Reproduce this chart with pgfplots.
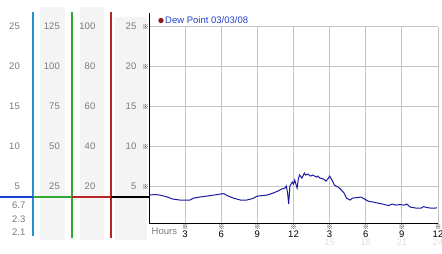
\documentclass[border=0pt]{standalone}
\usepackage{pgfplots}
\pgfplotsset{compat=1.18}
\usepackage{fontspec}
\setmainfont{Liberation Sans}
\newfontfamily\cjk{Noto Sans CJK SC}
\definecolor{lbl}{HTML}{7A7A7A}
\definecolor{panelbg}{HTML}{F4F4F4}
\definecolor{gridc}{HTML}{C4C4C4}
\definecolor{dewline}{HTML}{1A1AA0}
\definecolor{legtxt}{HTML}{1F3FCC}
\definecolor{legdot}{HTML}{8B1A1A}
\definecolor{cblue}{HTML}{2A8FD0}
\definecolor{hblue}{HTML}{1A3FD0}
\definecolor{cgreen}{HTML}{2EAA2E}
\definecolor{cred}{HTML}{B82424}
\definecolor{faint}{HTML}{E0E0E0}
\newcommand\refmark{{\cjk\fontsize{6.5bp}{6.5bp}\selectfont\textcolor{black}{※}}}
\begin{document}
\begin{tikzpicture}[x=1bp,y=1bp,font=\fontsize{9.5bp}{11bp}\selectfont]
\path[use as bounding box] (0,0) rectangle (442,253);
\fill[panelbg] (40,13) rectangle (65,246);
\fill[panelbg] (80,13) rectangle (104,246);
\fill[panelbg] (115,13) rectangle (147,236);
% panel vertical lines
\draw[cblue, line width=1.1bp] (33,17) -- (33,241);
\draw[cgreen, line width=1.1bp] (72,15) -- (72,241);
\draw[cred, line width=1.1bp] (111,15) -- (111,241);
% panel labels
\foreach \v/\Y in {25/226.3,20/186.5,15/146.7,10/106.8,5/67}{
  \node[anchor=east, inner sep=0, text=lbl] at (20,\Y) {\v};}
\foreach \v/\Y in {125/226.3,100/186.5,75/146.7,50/106.8,25/67}{
  \node[anchor=east, inner sep=0, text=lbl] at (60,\Y) {\v};}
\foreach \v/\Y in {100/226.3,80/186.5,60/146.7,40/106.8,20/67}{
  \node[anchor=east, inner sep=0, text=lbl] at (95.5,\Y) {\v};}
\node[anchor=east, inner sep=0, text=lbl] at (25.5,48) {6.7};
\node[anchor=east, inner sep=0, text=lbl] at (25.5,34) {2.3};
\node[anchor=east, inner sep=0, text=lbl] at (25.5,21) {2.1};
% current value line
\draw[hblue, line width=2.2bp] (0,56) -- (33,56);
\draw[cgreen, line width=2.2bp] (33,56) -- (72,56);
\draw[cred, line width=2.2bp] (72,56) -- (111,56);
\draw[black, line width=2.2bp] (111,56) -- (149,56);
\begin{axis}[
  at={(149bp,29.5bp)}, anchor=south west, scale only axis,
  width=289bp, height=196.8bp,
  xmin=0, xmax=24, ymin=0.3, ymax=25,
  axis x line=bottom, axis y line=left,
  axis line style={-, black, line width=1bp},
  xtick={3,6,...,24}, ytick={5,10,...,25},
  grid=major, major grid style={gridc, line width=0.9bp},
  major tick length=0pt,
  xticklabels={{\refmark\\3},{\refmark\\6},{\refmark\\9},{\refmark\\12},{\refmark\\3},{\refmark\\6},{\refmark\\9},{\refmark\\12}},
  xticklabel style={align=center, inner sep=0pt, yshift=-1bp, font=\fontsize{9.5bp}{6bp}\selectfont},
  yticklabels={{\textcolor{lbl}{5}\hspace{6bp}\refmark},{\textcolor{lbl}{10}\hspace{6bp}\refmark},{\textcolor{lbl}{15}\hspace{6bp}\refmark},{\textcolor{lbl}{20}\hspace{6bp}\refmark},{\textcolor{lbl}{25}\hspace{6bp}\refmark}},
  yticklabel style={anchor=east, inner sep=0pt, xshift=0bp},
]
\addplot[dewline, line width=1bp] coordinates {
(0,3.87) (0.5,3.93) (0.9,3.87) (1.4,3.68) (2.0,3.36) (2.6,3.24) (3.4,3.24) (3.7,3.49)
(4.2,3.62) (4.8,3.74) (5.4,3.87) (5.9,3.99) (6.2,4.05) (6.6,3.74) (7.0,3.49) (7.6,3.24)
(8.1,3.24) (8.6,3.43) (9.0,3.74) (9.4,3.80) (9.8,3.87) (10.3,4.12) (10.7,4.37) (11.0,4.62)
(11.3,4.75) (11.4,5.0) (11.5,4.24) (11.6,2.74) (11.7,5.0) (11.9,5.5) (12.0,5.25) (12.1,5.75)
(12.3,4.75) (12.4,5.87) (12.5,6.38) (12.7,6.0) (12.9,6.63) (13.0,6.38) (13.2,6.5) (13.4,6.25)
(13.6,6.38) (13.9,6.13) (14.0,6.25) (14.2,6.0) (14.5,5.87) (14.7,5.62) (14.9,6.0) (15.0,6.25)
(15.2,5.75) (15.4,5.12) (15.7,4.87) (15.9,4.62) (16.2,4.12) (16.4,3.49) (16.7,3.24) (16.9,3.49)
(17.3,3.55) (17.6,3.62) (17.9,3.36) (18.2,3.11) (18.6,2.99) (19.0,2.86) (19.4,2.74) (19.9,2.55)
(20.2,2.74) (20.5,2.61) (20.8,2.67) (21.2,2.61) (21.4,2.74) (21.7,2.36) (22.2,2.23) (22.6,2.23)
(22.8,2.42) (23.1,2.30) (23.4,2.23) (23.8,2.23) (23.9,2.30)
};
\end{axis}
\draw[black, line width=1bp] (149,29.5) -- (149,240);
% legend
\fill[legdot] (161,232.5) circle (2.7);
\node[anchor=west, inner sep=0, text=legtxt] at (165,232.5) {Dew Point 03/03/08};
% hours label and faint second row
\node[anchor=west, inner sep=0, text=lbl] at (151.5,21.5) {Hours};
\foreach \v/\X in {15/329.6,18/365.7,21/401.8,24/438}{
  \node[inner sep=0, text=faint] at (\X,11) {\v};}
\end{tikzpicture}
\end{document}
